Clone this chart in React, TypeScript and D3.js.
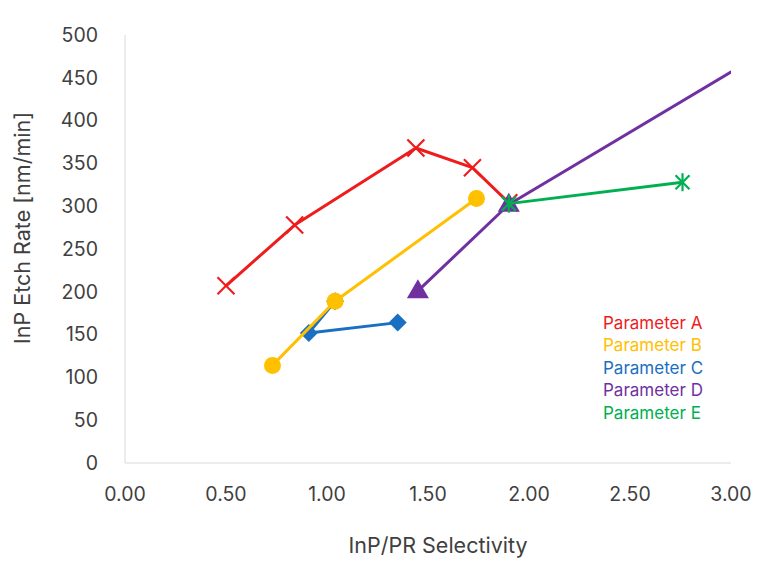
import * as d3 from 'd3';

// InP/PR selectivity (x) vs InP etch rate (y) for each parameter sweep
const seriesA_x = [0.50, 0.84, 1.44, 1.72, 1.90];
const seriesA_y = [207, 278, 368, 345, 304];
const seriesB_x = [0.73, 1.04, 1.74];
const seriesB_y = [114, 189, 309];
const seriesC_x = [1.04, 0.91, 1.35];
const seriesC_y = [189, 152, 164];
const seriesD_x = [1.45, 1.90, 3.25];
const seriesD_y = [201, 302, 492];
const seriesE_x = [1.90, 2.76];
const seriesE_y = [303, 328];

const seriesNames = ['Parameter A', 'Parameter B', 'Parameter C', 'Parameter D', 'Parameter E'];
const xTicks = [0, 0.5, 1, 1.5, 2, 2.5, 3];
const yTicks = [0, 50, 100, 150, 200, 250, 300, 350, 400, 450, 500];

const colors = ['#ee1c1c', '#ffc000', '#1a6fc2', '#7030a0', '#00b050'];

type Pt = { x: number; y: number };
const zip = (xs: number[], ys: number[]): Pt[] => xs.map((x, i) => ({ x, y: ys[i] }));

const series = [
  { name: seriesNames[0], color: colors[0], marker: 'x', pts: zip(seriesA_x, seriesA_y) },
  { name: seriesNames[1], color: colors[1], marker: 'circle', pts: zip(seriesB_x, seriesB_y) },
  { name: seriesNames[2], color: colors[2], marker: 'diamond', pts: zip(seriesC_x, seriesC_y) },
  { name: seriesNames[3], color: colors[3], marker: 'triangle', pts: zip(seriesD_x, seriesD_y) },
  { name: seriesNames[4], color: colors[4], marker: 'star', pts: zip(seriesE_x, seriesE_y) },
];
// drawing order (blue under yellow)
const drawOrder = [0, 2, 1, 3, 4];

const width = 768;
const height = 584;
const marginLeft = 125;
const marginRight = 37;
const marginTop = 35;
const marginBottom = 121;
const font = 'Inter, "Liberation Sans", sans-serif';

function Marker({ kind, x, y, color }: { kind: string; x: number; y: number; color: string }) {
  const s = 8.5;
  if (kind === 'x') {
    return (
      <g stroke={color} strokeWidth={2.2}>
        <line x1={x - s} y1={y - s} x2={x + s} y2={y + s} />
        <line x1={x - s} y1={y + s} x2={x + s} y2={y - s} />
      </g>
    );
  }
  if (kind === 'star') {
    return (
      <g stroke={color} strokeWidth={2.2}>
        <line x1={x - 7} y1={y - 7} x2={x + 7} y2={y + 7} />
        <line x1={x - 7} y1={y + 7} x2={x + 7} y2={y - 7} />
        <line x1={x} y1={y - 9} x2={x} y2={y + 9} />
      </g>
    );
  }
  if (kind === 'circle') return <circle cx={x} cy={y} r={8.5} fill={color} />;
  if (kind === 'diamond') {
    return <path d={`M${x},${y - 9}L${x + 9},${y}L${x},${y + 9}L${x - 9},${y}Z`} fill={color} />;
  }
  const tri = d3.symbol(d3.symbolTriangle, 210)();
  return <path d={tri ?? ''} transform={`translate(${x},${y + 1})`} fill={color} />;
}

export default function App() {
  const x = d3.scaleLinear().domain([0, 3]).range([marginLeft, width - marginRight]);
  const y = d3.scaleLinear().domain([0, 500]).range([height - marginBottom, marginTop]);
  const line = d3.line<Pt>().x(d => x(d.x)).y(d => y(d.y));

  return (
    <svg width={width} height={height} style={{ position: 'absolute', left: 0, top: 0, background: '#fff' }}>
      <defs>
        <clipPath id="plot">
          <rect x={marginLeft} y={marginTop} width={width - marginLeft - marginRight} height={height - marginTop - marginBottom} />
        </clipPath>
      </defs>

      {/* axes */}
      <line x1={x(0)} x2={x(0)} y1={y(0)} y2={y(500)} stroke="#d9d9d9" strokeWidth={1} />
      <line x1={x(0)} x2={x(3)} y1={y(0)} y2={y(0)} stroke="#d9d9d9" strokeWidth={1} />

      {yTicks.map(t => (
        <text key={t} x={98} y={y(t)} dy="0.35em" textAnchor="end" fontFamily={font} fontSize={19.5} fill="#404040">
          {t}
        </text>
      ))}
      {xTicks.map(t => (
        <text key={t} x={x(t)} y={494} dy="0.35em" textAnchor="middle" fontFamily={font} fontSize={19.5} fill="#404040">
          {t.toFixed(2)}
        </text>
      ))}

      <text x={438} y={545} dy="0.35em" textAnchor="middle" fontFamily={font} fontSize={21.5} fill="#404040">
        InP/PR Selectivity
      </text>
      <text transform={`translate(22,${(y(0) + y(500)) / 2 - 21}) rotate(-90)`} dy="0.35em" textAnchor="middle" fontFamily={font} fontSize={21.5} fill="#404040">
        InP Etch Rate [nm/min]
      </text>

      <g clipPath="url(#plot)">
        {drawOrder.map(i => {
          const s = series[i];
          return (
            <g key={s.name}>
              <path d={line(s.pts) ?? ''} fill="none" stroke={s.color} strokeWidth={3} strokeLinejoin="round" />
              {s.pts.map((p, j) => (
                <Marker key={j} kind={s.marker} x={x(p.x)} y={y(p.y)} color={s.color} />
              ))}
            </g>
          );
        })}
      </g>

      {series.map((s, i) => (
        <text key={s.name} x={603} y={323 + i * 22.5} dy="0.35em" fontFamily={font} fontSize={17} fill={s.color}>
          {s.name}
        </text>
      ))}
    </svg>
  );
}
